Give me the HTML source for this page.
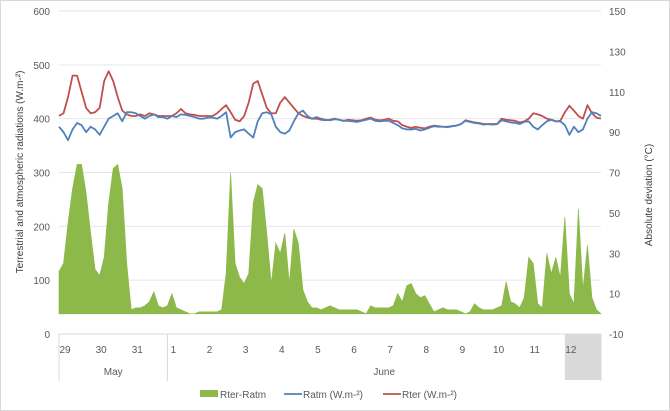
<!DOCTYPE html>
<html><head><meta charset="utf-8">
<style>
html,body{margin:0;padding:0;background:#fff;}
svg{display:block;font-family:"Liberation Sans",sans-serif;}
</style></head>
<body>
<svg id="chart" width="670" height="411" viewBox="0 0 670 411"></svg>
<script>
// ---- data ----
const dayLabels = ["29","30","31","1","2","3","4","5","6","7","8","9","10","11","12"];
const leftTicks = [0,100,200,300,400,500,600];
const rightTicks = [-10,10,30,50,70,90,110,130,150];
const diffValues = [
21,25,45,62,74,74,60,40,
22,19,28,55,72,74,62,25,
2,3,3,4,6,11,4,3,
4,10,3,2,1,0,0,1,
1,1,1,1,2,20,70,25,
18,15,20,55,64,62,40,15,
35,30,40,15,42,35,12,6,
3,3,2,3,4,3,2,2,
2,2,2,1,0,4,3,3,
3,3,4,10,6,14,15,10,
8,9,5,1,2,3,2,2,
2,1,0,1,5,3,2,2,
2,3,4,16,6,5,3,8,
28,25,5,3,30,20,28,18,
48,10,5,52,12,34,8,2,
0];
const rterValues = [
405,410,440,480,480,450,420,410,
412,420,470,488,470,440,415,408,
405,405,408,405,410,408,405,405,
405,405,410,418,410,408,407,405,
405,405,405,410,418,425,412,398,
395,405,430,465,470,445,420,410,
410,430,440,430,420,410,405,402,
400,400,398,397,398,400,398,396,
398,397,396,397,400,402,398,397,
398,400,396,395,388,385,383,385,
383,382,385,387,386,385,385,386,
387,390,397,395,393,392,390,390,
390,390,400,398,397,396,393,395,
400,410,408,405,400,398,395,396,
412,424,415,405,400,425,410,402,
400];
const ratmValues = [
385,375,360,380,392,388,375,385,
380,370,385,400,405,410,395,412,
412,410,405,400,405,408,403,403,
400,405,403,408,407,405,403,400,
400,402,402,400,405,412,365,375,
378,380,372,365,395,410,412,408,
385,375,372,378,395,410,415,405,
400,403,400,398,397,399,398,396,
396,395,394,396,398,400,396,395,
396,396,392,388,382,380,380,381,
378,380,383,386,385,385,384,386,
387,390,396,394,392,391,389,390,
389,390,397,395,393,392,390,394,
395,385,380,388,395,398,395,395,
388,370,385,375,380,400,412,410,
405];

// ---- scales ----
const X0=59, X1=601, YT=11, YB=334, NDAYS=15, PER=8;
const xT = t => X0 + (X1-X0)*t/NDAYS;
const yL = v => YB - (YB-YT)*v/600;
const yR = v => YB - (YB-YT)*(v+10)/160;
const NS="http://www.w3.org/2000/svg";
const svg=document.getElementById('chart');
function mk(tag,attrs,parent){const e=document.createElementNS(NS,tag);for(const k in attrs)e.setAttribute(k,attrs[k]);(parent||svg).appendChild(e);return e;}
function txt(s,attrs){const e=mk('text',attrs);e.textContent=s;return e;}

const border=mk('rect',{x:0.5,y:0.5,width:669,height:410,fill:'#fff',stroke:'#d9d9d9'});



// gridlines & left ticks
leftTicks.forEach(v=>{
  const g=mk('line',{x1:X0,x2:X1,y1:yL(v),y2:yL(v),stroke:v===0?'#d9d9d9':'#e6e6e6','stroke-width':1});
  
  
  const t=txt(String(v),{x:50,y:yL(v)+4,'text-anchor':'end','font-size':10,fill:'#595959'});
  
  
});
rightTicks.forEach(v=>{
  const t=txt(String(v),{x:609,y:yR(v)+4,'font-size':10,fill:'#595959'});
  
  
});

// gray highlight for day 12
const hl=mk('rect',{x:xT(14),y:YB,width:xT(15)-xT(14),height:46,fill:'#d9d9d9'});



// area
let d='M'+xT(0)+','+yR(0);
diffValues.forEach((v,i)=>{d+=' L'+xT(i/PER).toFixed(2)+','+yR(v).toFixed(2);});
d+=' L'+xT((diffValues.length-1)/PER)+','+yR(0)+' Z';
const area=mk('path',{d:d,fill:'#8db84a',stroke:'#8db84a','stroke-width':0.6});



function line(vals,color,name){
  let p='';vals.forEach((v,i)=>{p+=(i?' L':'M')+xT(i/PER).toFixed(2)+','+yL(v).toFixed(2);});
  const l=mk('path',{d:p,fill:'none',stroke:color,'stroke-width':1.8,'stroke-linejoin':'round'});
  
  
}
line(rterValues,'#c0504d','rter-line');
line(ratmValues,'#4f81bd','ratm-line');

// x axis labels
dayLabels.forEach((s,i)=>{
  const t=txt(s,{x:xT(i)+6,y:353,'text-anchor':'middle','font-size':10,fill:'#595959'});
  
  
});
[xT(0),xT(3),X1].forEach(x=>{
  const s=mk('line',{x1:x,x2:x,y1:YB,y2:381,stroke:'#d9d9d9'});
  
  
});
const m1=txt('May',{x:(xT(0)+xT(3))/2,y:375,'text-anchor':'middle','font-size':10,fill:'#595959'});


const m2=txt('June',{x:(xT(3)+X1)/2,y:375,'text-anchor':'middle','font-size':10,fill:'#595959'});



// axis titles
const lt=txt('Terrestrial and atmospheric radiations (W.m-²)',{x:0,y:0,'text-anchor':'middle','font-size':10,fill:'#404040',transform:'translate(23,172) rotate(-90)'});


const rt=txt('Absolute deviation (°C)',{x:0,y:0,'text-anchor':'middle','font-size':10,fill:'#404040',transform:'translate(652,195) rotate(-90)'});



// legend
const lg=mk('g',{});


const sw=mk('rect',{x:200,y:390,width:18,height:7,fill:'#8db84a'},lg);


const t1=mk('text',{x:220,y:398,'font-size':10,fill:'#595959'},lg);t1.textContent='Rter-Ratm';


const l1=mk('line',{x1:284,x2:302,y1:394,y2:394,stroke:'#4f81bd','stroke-width':1.8},lg);


const t2=mk('text',{x:303,y:398,'font-size':10,fill:'#595959'},lg);t2.textContent='Ratm (W.m-²)';


const l2=mk('line',{x1:383,x2:401,y1:394,y2:394,stroke:'#c0504d','stroke-width':1.8},lg);


const t3=mk('text',{x:402,y:398,'font-size':10,fill:'#595959'},lg);t3.textContent='Rter (W.m-²)';


</script>
</body></html>
